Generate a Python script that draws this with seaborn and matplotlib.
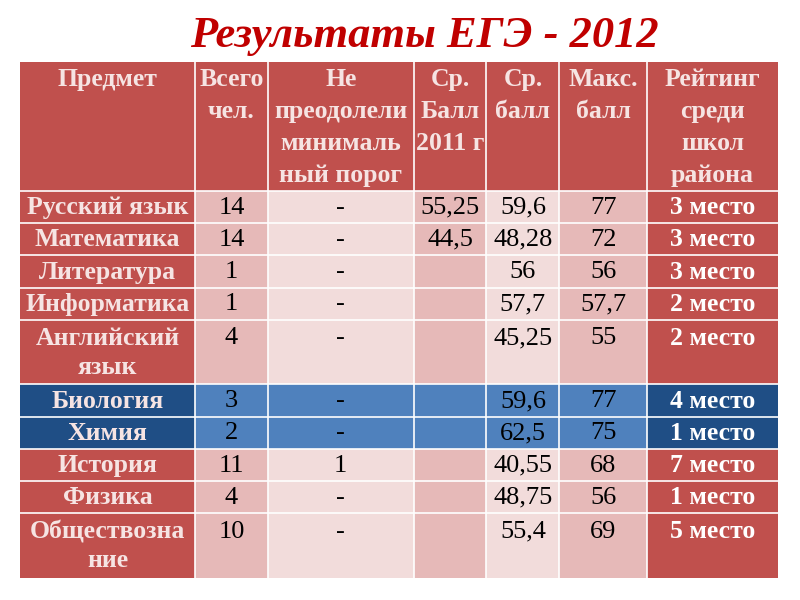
import numpy as np
import matplotlib
matplotlib.use("Agg")
import matplotlib.pyplot as plt
import seaborn as sns
from matplotlib.colors import ListedColormap

headers = ["Предмет", "Всего\nчел.", "Не\nпреодолели\nминималь\nный порог",
           "Ср.\nБалл\n2011 г", "Ср.\nбалл", "Макс.\nбалл", "Рейтинг\nсреди\nшкол\nрайона"]
subjects = ["Русский язык", "Математика", "Литература", "Информатика", "Английский\nязык",
            "Биология", "Химия", "История", "Физика", "Обществозна\nние"]
total = ["14", "14", "1", "1", "4", "3", "2", "11", "4", "10"]
failed = ["-", "-", "-", "-", "-", "-", "-", "1", "-", "-"]
avg_2011 = ["55,25", "44,5", "", "", "", "", "", "", "", ""]
avg_2012 = ["59,6", "48,28", "56", "57,7", "45,25", "59,6", "62,5", "40,55", "48,75", "55,4"]
max_score = ["77", "72", "56", "57,7", "55", "77", "75", "68", "56", "69"]
rating = ["3 место", "3 место", "3 место", "2 место", "2 место",
          "4 место", "1 место", "7 место", "1 место", "5 место"]
blue_rows = [5, 6]

# layout units
col_units = [12, 5, 10, 5, 5, 6, 9]
row_units = [4, 1, 1, 1, 1, 2, 1, 1, 1, 1, 2]

# color codes: 0 dark red, 1 pink, 2 light pink, 3 dark blue, 4 blue
cmap = ListedColormap(["#C0504D", "#E6B9B8", "#F2DCDB", "#1F4E85", "#4F81BD"])
cells = np.zeros((len(row_units), len(col_units)), dtype=int)
for r in range(1, len(row_units)):
    for c in range(len(col_units)):
        if c in (0, 6):
            cells[r, c] = 3 if (r - 1) in blue_rows else 0
        else:
            cells[r, c] = 4 if (r - 1) in blue_rows else (1 if c % 2 == 1 else 2)
grid = np.repeat(np.repeat(cells, row_units, axis=0), col_units, axis=1)

plt.rcParams['font.family'] = ['Liberation Serif', 'DejaVu Serif']
fig = plt.figure(figsize=(8, 6), dpi=100)
fig.patch.set_facecolor("white")
ax = fig.add_axes([0.025, 0.037, 0.9475, 0.86])
sns.heatmap(grid, cmap=cmap, vmin=-0.5, vmax=4.5, cbar=False, ax=ax,
            xticklabels=False, yticklabels=False)

xe = np.concatenate([[0], np.cumsum(col_units)])
ye = np.concatenate([[0], np.cumsum(row_units)])
ax.vlines(xe[1:-1], 0, ye[-1], color="white", lw=1.2)
ax.hlines(ye[1:-1], 0, xe[-1], color="white", lw=1.2)

for c, h in enumerate(headers):
    ax.text((xe[c] + xe[c + 1]) / 2, ye[0] + 0.2, h, ha="center", va="top",
            color="#F6E4E3", fontsize=18.5, fontweight="bold", linespacing=1.5)

for r in range(len(subjects)):
    yc = (ye[r + 1] + ye[r + 2]) / 2 + 0.02
    row = [subjects[r], total[r], failed[r], avg_2011[r], avg_2012[r], max_score[r], rating[r]]
    two = row_units[r + 1] == 2
    for c, t in enumerate(row):
        xc = (xe[c] + xe[c + 1]) / 2
        if c == 0:
            ax.text(xc, yc, t, ha="center", va="center", color="#F6E4E3",
                    fontsize=18.5, fontweight="bold", linespacing=1.35)
        elif c == 6:
            ax.text(xc, yc - (0.45 if two else 0), t, ha="center", va="center",
                    color="white", fontsize=18.5, fontweight="bold")
        else:
            ax.text(xc, yc - (0.45 if two else 0), t,
                    ha="center", va="center", color="black", fontsize=19)

fig.text(0.53, 0.94, "Результаты ЕГЭ - 2012", ha="center", va="center",
         color="#C00000", fontsize=32, fontweight="bold", fontstyle="italic")
fig.savefig("out.png", dpi=100)
